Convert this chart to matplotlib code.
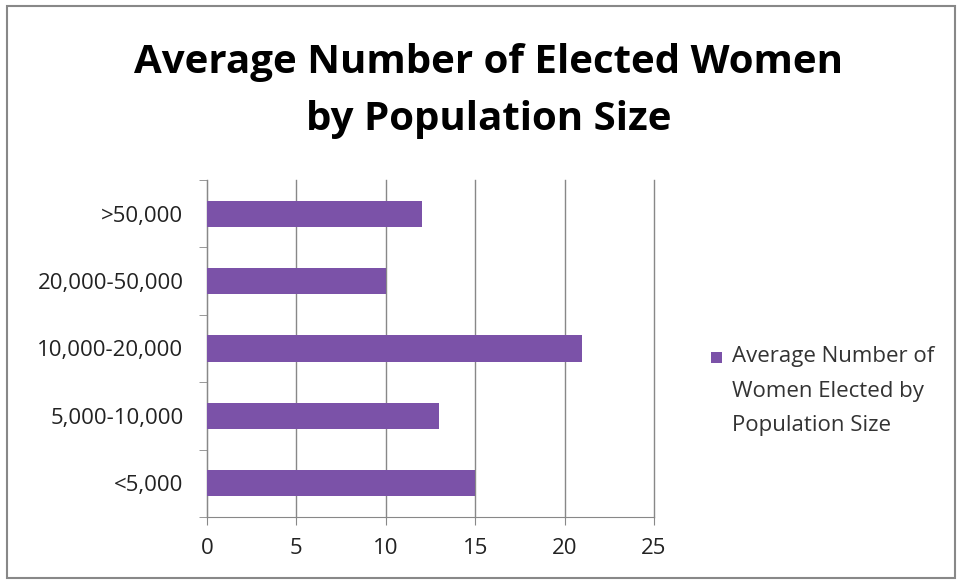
import matplotlib
matplotlib.use("Agg")
import matplotlib.pyplot as plt
from matplotlib.patches import Rectangle

categories = ["<5,000", "5,000-10,000", "10,000-20,000", "20,000-50,000", ">50,000"]
values = [15, 13, 21, 10, 12]
xticks = [0, 5, 10, 15, 20, 25]
title = "Average Number of Elected Women\nby Population Size"
legend_label = "Average Number of\nWomen Elected by\nPopulation Size"

plt.rcParams['font.family'] = ['Open Sans', 'DejaVu Sans']

bar_color = "#7B52A8"
fig = plt.figure(figsize=(9.61, 5.82), dpi=100)
fig.patch.set_facecolor("white")

# outer border
fig.add_artist(Rectangle((7/961, 1-578/582), 948/961, 572/582, transform=fig.transFigure,
                         fill=False, edgecolor="#888888", linewidth=1.5))

ax = fig.add_axes([207/961, 1-517/582, 447/961, 337/582])
y = list(range(len(categories)))
bars = ax.barh(y, values, height=0.39, color=bar_color, label=legend_label, zorder=3)
ax.set_xlim(0, 25)
ax.set_ylim(-0.5, len(categories) - 0.5)
ax.set_xticks(xticks)
ax.set_xticklabels([str(t) for t in xticks])
ax.set_yticks(y)
ax.set_yticklabels(categories)
ax.set_yticks([i - 0.5 for i in range(len(categories) + 1)], minor=True)
ax.tick_params(axis='y', which='major', length=0, labelsize=16, colors="#222222", pad=17)
ax.tick_params(axis='y', which='minor', length=6, color="#888888", direction='out')
ax.tick_params(axis='x', length=6, color="#888888", labelsize=16, colors="#222222", pad=9)
ax.grid(axis='x', color="#888888", linewidth=1, zorder=0)
for gl in ax.get_xgridlines():
    gl.set_clip_on(False)
for s in ['top', 'right']:
    ax.spines[s].set_visible(False)
ax.spines['left'].set_color("#888888")
ax.spines['bottom'].set_color("#888888")

fig.text(489/961, 1-91/582, title, ha='center', va='center', fontsize=29,
         fontweight='bold', linespacing=1.6, color="black")

# legend drawn by hand: handle aligned with the first line of the label
fig.add_artist(Rectangle((711/961, 1-363/582), 11/961, 11/582, transform=fig.transFigure,
                         facecolor=bar_color, edgecolor='none'))
fig.text(732/961, 1-346/582, bars.get_label(), ha='left', va='top', fontsize=16,
         linespacing=1.85, color="#333333")

fig.savefig("out.png", dpi=100, facecolor="white")
